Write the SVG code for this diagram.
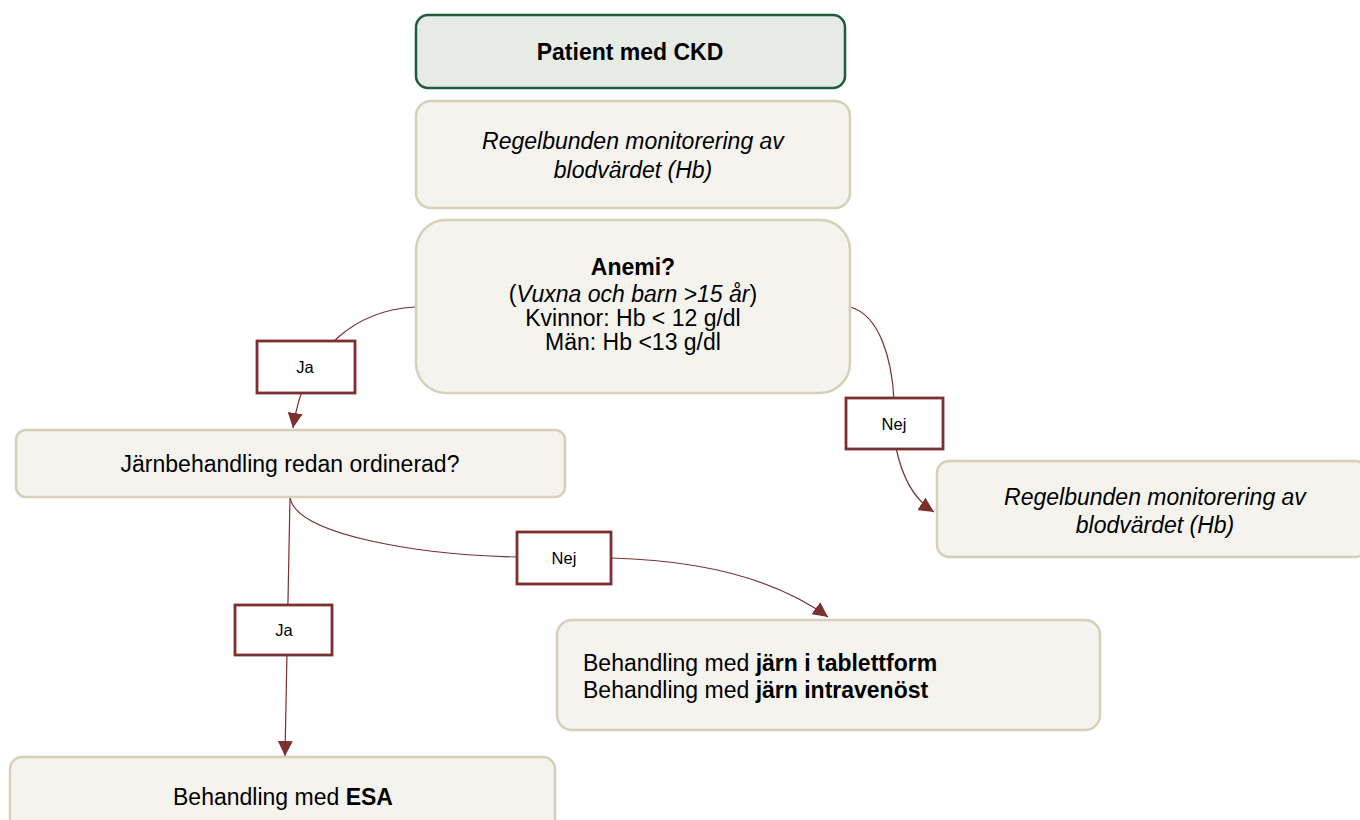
<svg xmlns="http://www.w3.org/2000/svg" width="1360" height="820" viewBox="0 0 1360 820">
<defs>
<style>
.node{fill:#f4f3ee;stroke:#d7cfb9;stroke-width:2.5}
.start{fill:#e7ebe5;stroke:#1e5c3e;stroke-width:2.5}
.lbl{fill:#ffffff;stroke:#7b2f2f;stroke-width:2.8}
.conn{fill:none;stroke:#7b2f2f;stroke-width:1.2}
text{font-family:"Liberation Sans",Arial,sans-serif;fill:#000}
.t{font-size:23px}
.s{font-size:16.5px}
.c{text-anchor:middle}
.b{font-weight:bold}
.i{font-style:italic}
</style>
<marker id="arr" viewBox="0 0 10 10" refX="10" refY="5" markerWidth="15" markerHeight="15" markerUnits="userSpaceOnUse" orient="auto">
<path d="M0,0 L10,5 L0,10 Z" fill="#7b2f2f"/>
</marker>
</defs>
<rect width="1360" height="820" fill="#ffffff"/>
<g id="connectors">
<path class="conn" d="M415,307 C360,310 305,345 293,428" marker-end="url(#arr)"/>
<path class="conn" d="M850,307 C880,315 892,360 894,400"/>
<path class="conn" d="M896,448 C902,475 912,498 934,512" marker-end="url(#arr)"/>
<path class="conn" d="M290,497 L285,756" marker-end="url(#arr)"/>
<path class="conn" d="M290,497 C295,535 420,555 517,557"/>
<path class="conn" d="M611,558 C690,560 770,575 828,617" marker-end="url(#arr)"/>
</g>
<g id="n1">
<rect class="start" x="416" y="15" width="429" height="73" rx="12"/>
<text class="t c b" x="630" y="59.5">Patient med CKD</text>
</g>
<g id="n2">
<rect class="node" x="416" y="101" width="434" height="107" rx="15"/>
<text class="t c i" x="633" y="149">Regelbunden monitorering av</text>
<text class="t c i" x="633" y="177.5">blodvärdet (Hb)</text>
</g>
<g id="n3">
<rect class="node" x="416" y="220" width="434" height="173" rx="30"/>
<text class="t c b" x="633" y="274.5">Anemi?</text>
<text class="t c" x="633" y="301.5">(<tspan class="i">Vuxna och barn &gt;15 år</tspan>)</text>
<text class="t c" x="633" y="326">Kvinnor: Hb &lt; 12 g/dl</text>
<text class="t c" x="633" y="350">Män: Hb &lt;13 g/dl</text>
</g>
<g id="n4">
<rect class="node" x="16" y="430" width="549" height="67" rx="10"/>
<text class="t c" x="290" y="472">Järnbehandling redan ordinerad?</text>
</g>
<g id="n5">
<rect class="node" x="937" y="461" width="430" height="96" rx="12"/>
<text class="t c i" x="1155" y="504.5">Regelbunden monitorering av</text>
<text class="t c i" x="1155" y="532.5">blodvärdet (Hb)</text>
</g>
<g id="n6">
<rect class="node" x="557" y="620" width="543" height="110" rx="15"/>
<text class="t" x="583" y="670.5">Behandling med <tspan class="b">järn i tablettform</tspan></text>
<text class="t" x="583" y="698">Behandling med <tspan class="b">järn intravenöst</tspan></text>
</g>
<g id="n7">
<rect class="node" x="10" y="757" width="545" height="80" rx="12"/>
<text class="t c" x="283" y="805">Behandling med <tspan class="b">ESA</tspan></text>
</g>
<g id="l1">
<rect class="lbl" x="257" y="341" width="98" height="52"/>
<text class="s c" x="305" y="373">Ja</text>
</g>
<g id="l2">
<rect class="lbl" x="846" y="398" width="97" height="51"/>
<text class="s c" x="894" y="429.5">Nej</text>
</g>
<g id="l3">
<rect class="lbl" x="517" y="532" width="94" height="52"/>
<text class="s c" x="564" y="564">Nej</text>
</g>
<g id="l4">
<rect class="lbl" x="235" y="605" width="97" height="50"/>
<text class="s c" x="284" y="636">Ja</text>
</g>
</svg>
